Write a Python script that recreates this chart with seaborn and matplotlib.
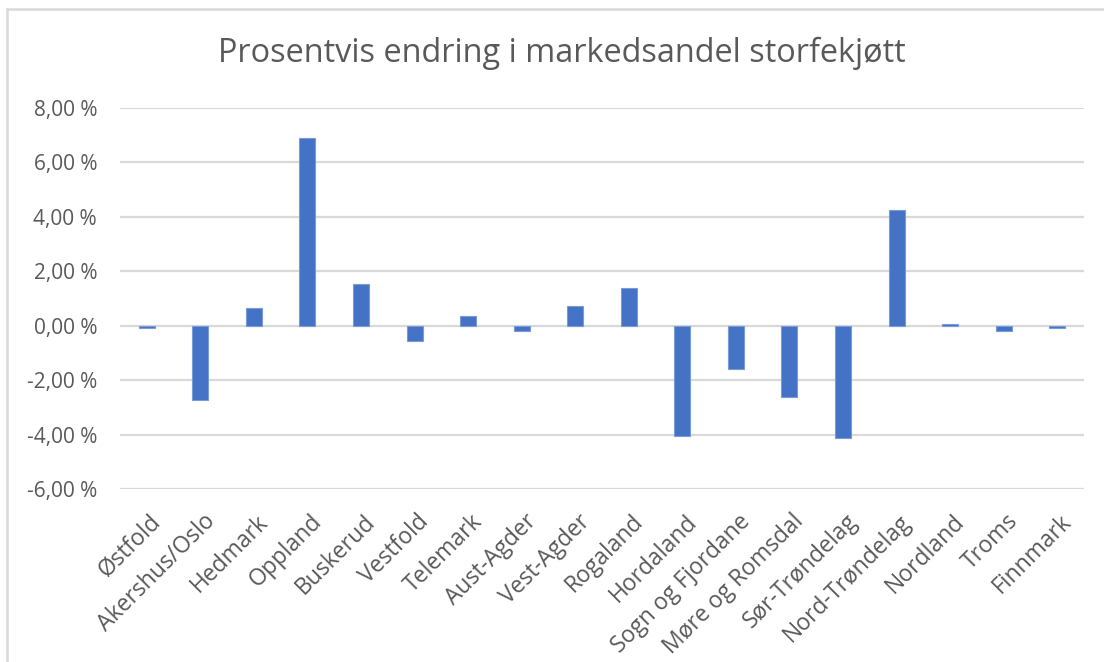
import matplotlib
matplotlib.use("Agg")
import matplotlib.pyplot as plt
import matplotlib.transforms as mtransforms
from matplotlib.ticker import FuncFormatter, MultipleLocator
from matplotlib.lines import Line2D
import seaborn as sns
import pandas as pd

categories = ["Østfold", "Akershus/Oslo", "Hedmark", "Oppland", "Buskerud", "Vestfold",
              "Telemark", "Aust-Agder", "Vest-Agder", "Rogaland", "Hordaland",
              "Sogn og Fjordane", "Møre og Romsdal", "Sør-Trøndelag", "Nord-Trøndelag",
              "Nordland", "Troms", "Finnmark"]
values = [-0.10, -2.73, 0.65, 6.90, 1.54, -0.58, 0.36, -0.20, 0.73, 1.40, -4.04,
          -1.60, -2.63, -4.12, 4.27, 0.07, -0.20, -0.10]
title = "Prosentvis endring i markedsandel storfekjøtt"

sns.set_theme(style="white")
plt.rcParams['font.family'] = ['Open Sans', 'DejaVu Sans']

df = pd.DataFrame({"Fylke": categories, "Endring": values})

fig = plt.figure(figsize=(11.04, 6.62), dpi=100)
ax = fig.add_axes([120/1104, 1-489/662, (1084-120)/1104, (489-108)/662])

sns.barplot(data=df, x="Fylke", y="Endring", color="#4472C4", width=0.3,
            saturation=1, edgecolor="#7A9BDA", linewidth=0.8, ax=ax, zorder=3)

ax.set_ylim(-6, 8)
ax.yaxis.set_major_locator(MultipleLocator(2))
ax.yaxis.set_major_formatter(FuncFormatter(lambda v, p: f"{v:.2f}".replace('.', ',') + " %"))
ax.grid(axis='y', color="#D9D9D9", linewidth=1.6, zorder=0)
ax.set_axisbelow(True)
for s in ax.spines.values():
    s.set_visible(False)
ax.set_xlabel("")
ax.set_ylabel("")
ax.tick_params(axis='both', length=0, colors="#595959", labelsize=15)
ax.tick_params(axis='x', labelsize=16.5, pad=21)
ax.tick_params(axis='y', pad=16.5)
offset = mtransforms.ScaledTranslation(11/100, 0, fig.dpi_scale_trans)
for lab in ax.get_xticklabels():
    lab.set_rotation(45)
    lab.set_ha('right')
    lab.set_va('center')
    lab.set_rotation_mode('anchor')
    lab.set_transform(lab.get_transform() + offset)

fig.text(562/1104, 1-53/662, title, ha='center', va='center', fontsize=23.4, color="#595959")

# chart border (partially visible)
fig.add_artist(Line2D([7/1104, 1.0], [1-9/662, 1-9/662], color="#D9D9D9", linewidth=1.8, transform=fig.transFigure))
fig.add_artist(Line2D([7/1104, 7/1104], [0, 1-9/662], color="#D9D9D9", linewidth=1.8, transform=fig.transFigure))

fig.savefig("out.png", dpi=100, facecolor="white")
